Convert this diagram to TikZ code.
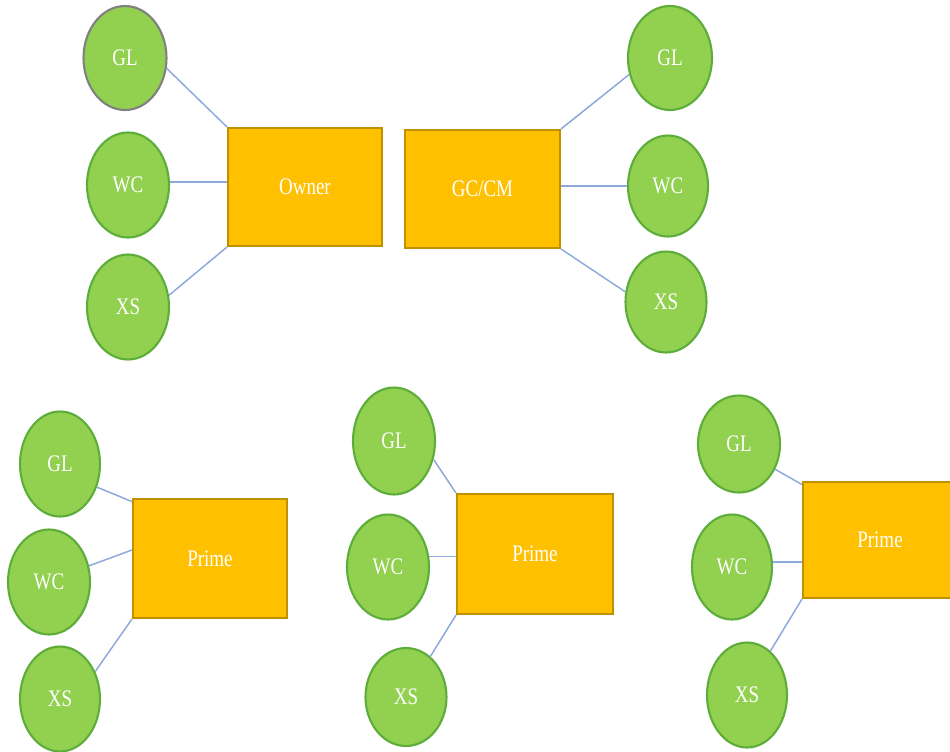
\documentclass[tikz,border=0pt]{standalone}
\usepackage{fontspec}
\setmainfont{Liberation Serif}
\usepackage{graphicx}
\usetikzlibrary{shapes.geometric,calc}
\definecolor{cfill}{HTML}{92D050}
\definecolor{cline}{HTML}{5DAD3A}
\definecolor{bfill}{HTML}{FFC000}
\definecolor{bline}{HTML}{BF9000}
\definecolor{conn}{HTML}{8EA9DB}
\definecolor{grayb}{HTML}{808080}
\newcommand{\lbl}[1]{\scalebox{0.8}[1]{#1}}
\tikzset{
  circ/.style={ellipse, draw=cline, line width=1.2pt, fill=cfill, inner sep=0pt,
    minimum width=1.64cm, minimum height=2.1cm, text=white,
    font=\fontsize{13.5}{15}\selectfont},
  boxn/.style={rectangle, draw=bline, line width=1.2pt, fill=bfill, inner sep=0pt,
    minimum width=3.08cm, minimum height=2.36cm, text=white,
    font=\fontsize{13.5}{15}\selectfont},
  conline/.style={draw=conn, line width=0.85pt}
}
\begin{document}
\begin{tikzpicture}[x=0.02cm,y=-0.02cm]
\useasboundingbox (0,0) rectangle (950,751);
% group 1: Owner
\node[circ, draw=grayb, minimum width=1.66cm, minimum height=2.08cm] (GLa) at (125,58) {\lbl{GL}};
\node[circ] (WCa) at (128,185) {\lbl{WC}};
\node[circ] (XSa) at (128,307) {\lbl{XS}};
\node[boxn] (Owner) at (305,187) {\lbl{Owner}};
\draw[conline] (GLa.-14) -- (Owner.north west);
\draw[conline] (WCa.4) -- (WCa.4 -| Owner.west);
\draw[conline] (XSa.16) -- (Owner.south west);
% group 2: GC/CM
\node[boxn, minimum width=3.1cm] (GCCM) at (482.5,189) {\lbl{GC/CM}};
\node[circ, minimum width=1.68cm, minimum height=2.08cm] (GLb) at (670,58) {\lbl{GL}};
\node[circ, minimum width=1.6cm, minimum height=2.02cm] (WCb) at (668,186) {\lbl{WC}};
\node[circ, minimum width=1.62cm, minimum height=2.02cm] (XSb) at (666,302) {\lbl{XS}};
\draw[conline] (GCCM.north east) -- (GLb.202);
\draw[conline] (WCb.west -| GCCM.east) -- (WCb.west);
\draw[conline] (GCCM.south east) -- (XSb.166);
% group 3: Prime (left)
\node[circ, minimum width=1.6cm] (GLc) at (60,464) {\lbl{GL}};
\node[circ] (WCc) at (49,582) {\lbl{WC}};
\node[circ, minimum width=1.6cm] (XSc) at (60,699) {\lbl{XS}};
\node[boxn, minimum height=2.38cm] (PrimeA) at (210,558.5) {\lbl{Prime}};
\draw[conline] (GLc.-32) -- ($(PrimeA.north west)!0.03!(PrimeA.south west)$);
\draw[conline] (WCc.22) -- ($(PrimeA.north west)!0.43!(PrimeA.south west)$);
\draw[conline] (XSc.38) -- (PrimeA.south west);
% group 4: Prime (middle)
\node[circ, minimum height=2.14cm] (GLd) at (394,441) {\lbl{GL}};
\node[circ] (WCd) at (388,567) {\lbl{WC}};
\node[circ, minimum width=1.62cm, minimum height=1.96cm] (XSd) at (406,697) {\lbl{XS}};
\node[boxn, minimum width=3.12cm, minimum height=2.4cm] (PrimeB) at (535,554) {\lbl{Prime}};
\draw[conline] (GLd.-25) -- (PrimeB.north west);
\draw[conline] (WCd.14) -- (WCd.14 -| PrimeB.west);
\draw[conline] (XSd.59) -- (PrimeB.south west);
% group 5: Prime (right)
\node[circ, minimum height=1.94cm] (GLe) at (739,444) {\lbl{GL}};
\node[circ, minimum width=1.6cm] (WCe) at (732,567) {\lbl{WC}};
\node[circ, minimum width=1.6cm] (XSe) at (747,695) {\lbl{XS}};
\node[boxn, minimum height=2.32cm] (PrimeC) at (880,540) {\lbl{Prime}};
\draw[conline] (GLe.-35) -- ($(PrimeC.north west)!0.03!(PrimeC.south west)$);
\draw[conline] (WCe.7) -- (WCe.7 -| PrimeC.west);
\draw[conline] (XSe.62) -- (PrimeC.south west);
\end{tikzpicture}
\end{document}
